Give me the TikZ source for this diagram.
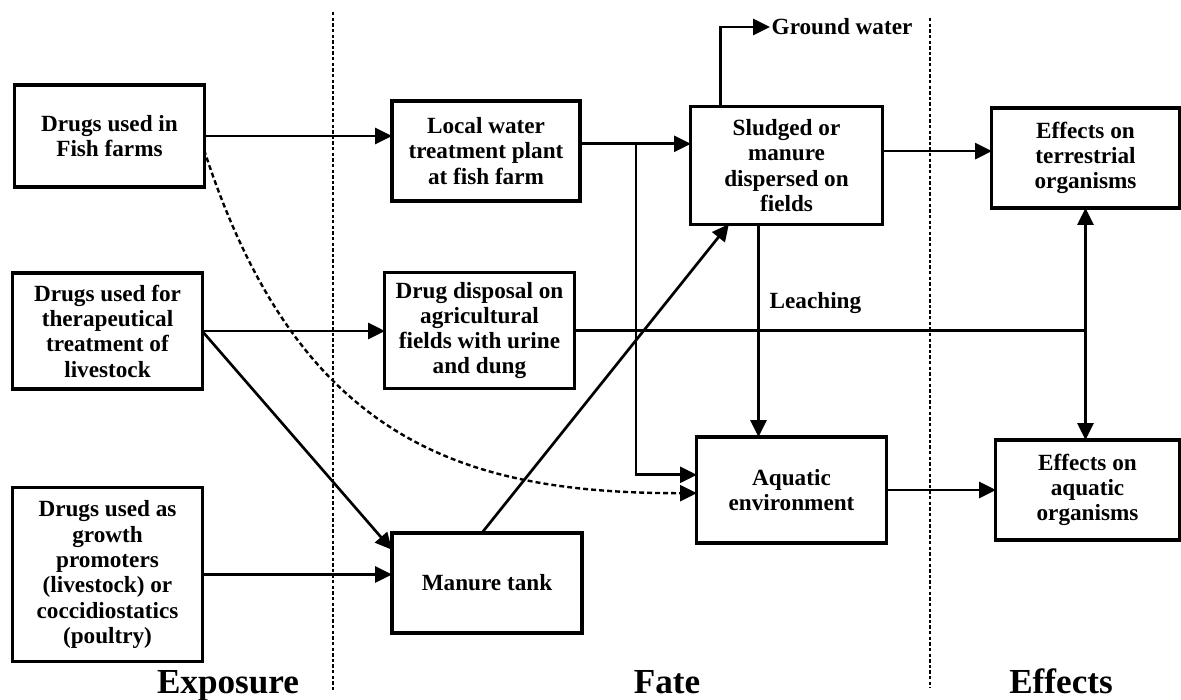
\documentclass[tikz,border=0pt]{standalone}
\usepackage{fontspec}
\setmainfont{Liberation Serif}
\usetikzlibrary{arrows.meta}

\begin{document}
\begin{tikzpicture}[x=0.025cm,y=-0.025cm,
	box/.style={draw,line width=2.2pt,inner sep=0pt,outer sep=0pt,align=center,font=\fontsize{16.5}{18}\selectfont\bfseries},
	arr/.style={line width=1.9pt,-{Triangle[length=0.42cm,width=0.4cm]}},
	lbl/.style={font=\fontsize{16.5}{18}\selectfont\bfseries,inner sep=1pt},
	part/.style={font=\fontsize{25}{28}\selectfont\bfseries,anchor=base},
	sep/.style={line width=1.3pt,dash pattern=on 2.4pt off 1.6pt}]
					\useasboundingbox (0,0) rectangle (1181,699);
					% separators
					\draw[sep] (333,12) -- (333,690);
					\draw[sep] (930,18) -- (930,688);
					% exposure
					\node[box,minimum width=4.73cm,minimum height=2.55cm] (fish) at (109.5,136) {Drugs used in\\Fish farms};
					\node[box,minimum width=4.73cm,minimum height=2.9cm] (thera) at (107.5,331) {Drugs used for\\therapeutical\\treatment of\\livestock};
					\node[box,minimum width=4.73cm,minimum height=4.33cm] (growth) at (107.5,574.5) {Drugs used as\\growth\\promoters\\(livestock) or\\coccidiostatics\\(poultry)};
					% fate
					\node[box,minimum width=4.7cm,minimum height=2.5cm] (plant) at (486,151) {Local water\\treatment plant\\at fish farm};
					\node[box,minimum width=4.73cm,minimum height=2.88cm] (disp) at (479.5,330.5) {Drug disposal on\\agricultural\\fields with urine\\and dung};
					\node[box,minimum width=4.75cm,minimum height=2.5cm] (tank) at (487,583) {Manure tank};
					\node[box,minimum width=4.78cm,minimum height=2.93cm] (sludge) at (786.5,165.5) {Sludged or\\manure\\dispersed on\\fields};
					\node[box,minimum width=4.73cm,minimum height=2.65cm] (aqua) at (791.5,490) {Aquatic\\environment};
					% effects
					\node[box,minimum width=4.68cm,minimum height=2.5cm] (terr) at (1085.5,158) {Effects on\\terrestrial\\organisms};
					\node[box,minimum width=4.58cm,minimum height=2.5cm] (aqorg) at (1087.5,490) {Effects on\\aquatic\\organisms};
					\node[lbl,anchor=west] (ground) at (770,27) {Ground water};
					\node[lbl,anchor=west] (leach) at (768,303) {Leaching};
					\node[part] (expo) at (228,693) {Exposure};
					\node[part] (fate) at (667,693) {Fate};
					\node[part] (eff) at (1061,693) {Effects};
					\coordinate (split) at (636,144);
					\coordinate (fork) at (1085.5,330.5);
					% connectors
					\draw[arr] (fish.east) -- (fish.east -| plant.west);
					\draw[arr,line width=1.7pt,dash pattern=on 3.5pt off 2.2pt] ([yshift=-0.35cm]fish.east) to[out=-72,in=180,out looseness=1.3,in looseness=1] ([yshift=-0.08cm]aqua.west);
					\draw[arr] ([yshift=0.18cm]plant.east) -- ([yshift=0.18cm]plant.east -| sludge.west);
					\draw[arr] (split) |- ([yshift=0.38cm]aqua.west);
					\draw[arr] (thera.east) -- (thera.east -| disp.west);
					\draw[arr] (thera.east) -- ([yshift=0.83cm]tank.west);
					\draw[arr] (growth.east) -- (growth.east -| tank.west);
					\draw[arr] ([xshift=-0.13cm]tank.north) -- ([xshift=-1.44cm]sludge.south);
					\draw[arr] ([xshift=-1.65cm]sludge.north) |- (ground.west);
					\draw[arr] ([xshift=-0.7cm]sludge.south) -- ([xshift=-0.7cm]sludge.south |- aqua.north);
					\draw[arr] ([yshift=0.36cm]sludge.east) -- ([yshift=0.36cm]sludge.east -| terr.west);
					\draw[line width=1.9pt] (disp.east) -- (fork);
					\draw[arr] (fork) -- (terr.south);
					\draw[arr] (fork) -- (fork |- aqorg.north);
					\draw[arr] (aqua.east) -- (aqua.east -| aqorg.west);
				\end{tikzpicture}
\end{document}
